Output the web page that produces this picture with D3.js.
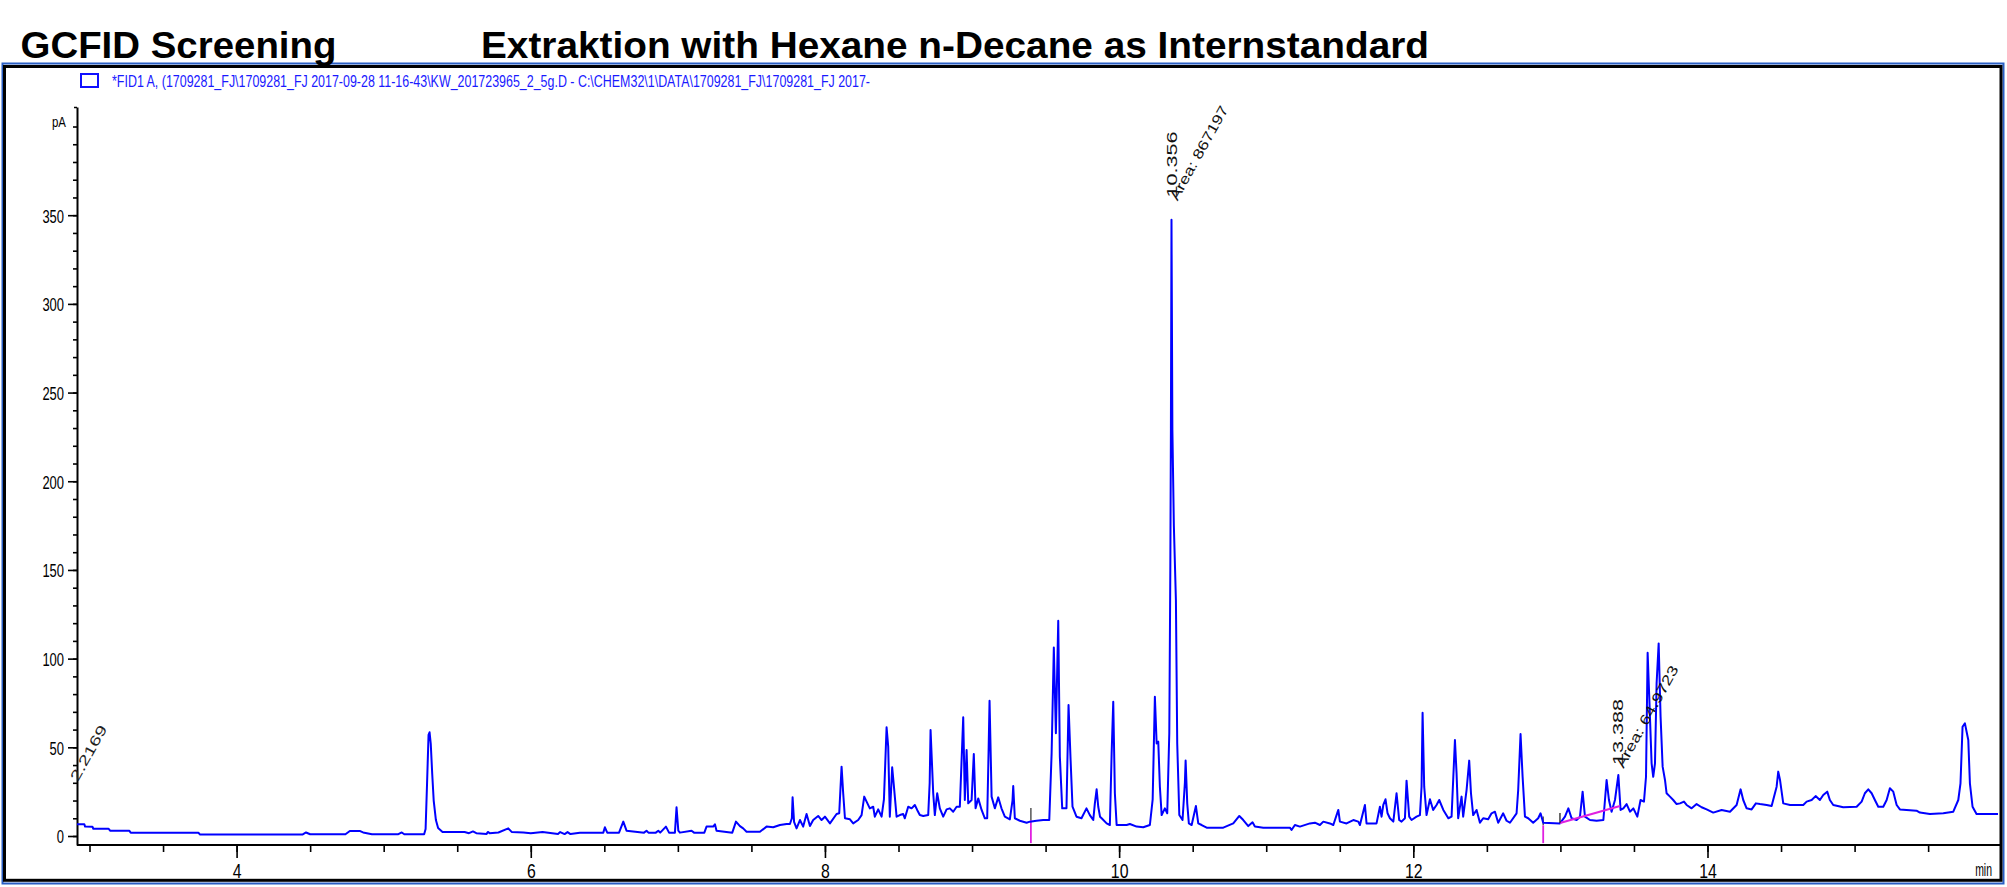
<!DOCTYPE html>
<html><head><meta charset="utf-8">
<script src="https://cdn.jsdelivr.net/npm/d3@7"></script>
<style>body{margin:0;background:#fff}svg{display:block}</style>
</head><body>
<svg id="c" width="2007" height="887"></svg>
<script>
// ---- data (retention time in min, signal in pA) ----
const timeMin = [
2.915,2.965,2.970,3.020,3.026,3.130,3.140,3.270,3.280,3.740,3.750,4.450,4.472,4.500,4.740,4.770,4.840,4.860,4.920,5.100,
5.123,5.140,5.275,5.285,5.295,5.305,5.312,5.320,5.330,5.340,5.355,5.370,5.400,5.550,5.580,5.607,5.630,5.700,5.708,5.720,
5.780,5.847,5.870,5.950,6.000,6.080,6.185,6.200,6.230,6.250,6.270,
6.334,6.493,6.504,6.520,6.600,6.629,6.651,6.770,6.787,6.800,6.850,6.867,6.880,6.919,6.940,6.980,6.991,7.003,7.014,7.093,
7.110,7.180,7.195,7.240,7.252,7.263,7.370,7.395,7.422,7.444,7.467,7.558,7.603,7.648,7.694,7.739,7.762,7.775,7.780,7.790,
7.807,7.830,7.852,7.875,7.898,7.920,7.954,7.977,8.000,8.034,8.079,8.097,8.113,8.124,8.136,8.170,8.192,8.226,8.249,8.267,
8.283,8.305,8.328,8.339,8.362,8.385,8.401,8.419,8.430,8.441,8.457,8.469,8.487,8.509,8.532,8.543,8.566,8.589,8.611,8.627,
8.645,8.668,8.702,8.712,8.718,8.736,8.747,8.763,8.781,8.804,8.827,8.849,8.872,8.895,8.917,8.929,8.940,8.951,8.963,8.974,
8.997,9.012,9.024,9.042,9.065,9.087,9.103,9.113,9.119,9.133,9.155,9.178,9.200,9.223,9.257,9.275,9.280,9.291,9.325,9.371,
9.393,9.438,9.484,9.525,9.541,9.556,9.570,9.586,9.597,9.613,9.642,9.656,9.670,9.683,9.710,9.744,9.778,9.801,
9.824,9.835,9.847,9.858,9.870,9.881,9.915,9.937,9.949,9.960,9.971,9.983,10.051,10.073,10.119,10.164,10.209,10.228,10.243,10.255,
10.266,10.277,10.289,10.311,10.327,10.341,10.348,10.352,10.356,10.362,10.372,10.386,10.395,10.409,10.431,10.447,10.452,10.463,10.474,10.493,
10.522,10.538,10.561,10.595,10.708,10.776,10.817,10.844,10.878,10.907,10.923,10.980,11.161,11.172,11.195,11.229,11.297,11.331,11.365,11.388,
11.433,11.456,11.490,11.501,11.546,11.592,11.626,11.637,11.671,11.682,11.716,11.750,11.773,11.784,11.796,11.811,11.825,11.841,11.864,11.886,
11.904,11.920,11.943,11.954,11.972,11.988,12.022,12.045,12.056,12.063,12.074,12.090,12.113,12.135,12.158,12.176,12.204,12.238,12.260,12.272,
12.283,12.294,12.305,12.328,12.339,12.362,12.380,12.392,12.407,12.430,12.453,12.475,12.509,12.532,12.555,12.577,12.611,12.634,12.657,12.702,
12.713,12.729,12.743,12.759,12.781,12.815,12.849,12.865,12.883,12.997,
13.031,13.054,13.076,13.110,13.133,13.151,13.167,13.201,13.246,13.292,13.314,13.330,13.348,13.371,13.394,13.409,13.428,13.450,13.473,13.496,
13.523,13.545,13.568,13.582,13.593,13.604,13.620,13.631,13.643,13.654,13.668,13.681,13.695,13.711,13.722,13.745,13.767,13.790,13.813,13.840,
13.858,13.892,13.926,13.960,13.994,14.039,14.096,14.153,14.198,14.225,14.243,14.266,14.300,14.329,14.357,14.402,14.436,14.470,14.481,14.493,
14.515,14.561,14.651,14.674,14.708,14.735,14.764,14.787,14.814,14.832,14.855,14.923,15.014,15.048,15.070,15.093,15.116,15.138,15.161,15.195,
15.218,15.240,15.263,15.286,15.308,
15.421,15.444,15.512,15.603,15.671,15.705,15.720,15.734,15.750,15.773,15.784,15.802,15.829,15.897,15.975
];
const signalPA = [
6.6,6.6,5.3,5.2,4.1,4.1,3.0,3.0,1.9,1.9,0.9,0.9,2.0,1.0,1.0,2.8,2.8,2.0,1.0,1.0,
2.0,1.0,1.0,4.0,30.0,57.0,58.5,52.0,35.0,20.0,9.0,4.5,2.3,2.3,1.6,2.6,1.6,1.2,2.3,1.6,
2.0,4.3,2.3,2.0,1.6,2.2,1.1,2.2,1.1,2.2,1.1,
1.9,1.9,4.9,1.9,1.9,8.1,3.0,1.9,3.0,1.9,1.9,3.0,1.9,5.3,1.9,1.9,16.2,3.0,1.9,3.0,
1.9,1.9,5.3,5.3,6.6,3.0,1.9,8.1,5.6,4.3,2.4,2.4,5.3,4.9,6.2,6.8,6.8,10.0,21.8,8.0,
4.3,9.0,5.3,12.4,5.6,9.0,11.3,9.0,10.9,7.1,12.4,12.8,39.1,24.1,10.0,9.4,7.1,9.0,11.8,22.2,
19.4,15.6,16.5,10.9,15.0,10.9,20.7,61.3,50.4,10.9,38.7,27.8,10.9,11.8,12.4,10.0,16.5,15.6,17.5,14.7,
11.8,11.3,11.8,30.0,59.8,24.1,11.8,24.1,15.6,10.9,15.0,15.6,13.7,16.5,16.5,42.8,66.9,20.3,48.5,18.4,
20.3,46.2,15.6,21.2,14.7,10.0,10.0,50.0,76.3,22.2,15.6,21.8,15.6,10.9,9.4,20.0,28.2,10.0,8.6,7.5,
8.1,8.6,9.0,9.0,46.6,106.3,57.9,121.4,44.7,15.6,15.6,73.8,42.8,16.5,10.9,10.0,15.6,11.8,
9.0,18.4,26.3,16.5,10.9,10.0,7.1,6.2,46.6,75.7,24.1,6.2,6.2,6.8,5.3,4.9,6.2,20.7,78.5,52.2,
53.2,27.8,11.8,15.6,12.8,57.9,150.0,230.0,347.5,229.0,175.0,133.0,52.0,11.8,9.0,30.0,42.5,18.4,7.1,6.2,
16.9,7.1,6.2,4.7,4.7,7.1,11.3,9.0,5.6,7.7,5.3,4.7,4.7,3.4,6.2,5.3,7.1,7.5,6.2,8.1,
7.1,6.2,14.7,8.1,7.1,9.0,8.1,6.2,17.5,7.1,7.1,7.1,16.5,10.9,17.5,20.7,12.8,10.0,8.1,24.1,
9.0,8.1,10.0,31.2,10.9,9.0,10.9,11.8,27.8,69.5,27.8,11.8,20.7,14.7,17.5,20.3,14.7,10.0,10.9,33.4,
54.1,35.3,10.0,22.2,10.9,25.9,42.5,24.1,11.8,14.7,7.5,10.0,9.4,12.8,13.7,7.5,12.8,8.6,7.5,12.8,
25.9,57.5,33.4,10.9,10.0,7.5,10.0,12.8,7.5,7.1,
10.9,15.6,10.0,9.0,10.9,25.0,10.9,9.0,8.6,9.0,31.6,20.3,13.7,20.3,34.4,14.7,15.6,18.0,13.7,15.6,
10.9,20.3,19.4,33.4,103.3,78.5,41.0,33.4,41.0,86.1,108.6,67.3,39.1,31.6,24.1,22.2,20.3,18.0,18.4,19.4,
17.5,15.6,18.0,16.2,15.0,13.2,14.7,13.7,17.5,26.3,20.3,15.6,15.0,18.4,18.0,17.5,16.9,27.8,36.3,31.6,
18.4,17.5,17.5,19.4,20.3,22.5,20.3,23.1,25.0,20.3,17.5,16.2,16.5,19.4,24.1,26.3,24.1,20.3,16.5,16.5,
20.3,26.9,25.0,17.5,15.0,
14.3,13.2,12.4,12.8,13.7,20.3,29.7,61.6,63.5,54.1,29.7,16.5,12.4,12.4,12.4
];
const yMajorTicks = [0, 50, 100, 150, 200, 250, 300, 350];
const yMinorTicks = d3.range(0, 401, 10);
const xMajorTicks = [4, 6, 8, 10, 12, 14];
const xMinorTicks = d3.range(3, 15.51, 0.5);
const xDomain = [2.915, 15.975];
const yDomain = [-5.07, 411];

// peak annotations: retention time, label anchor (pA), area text
const peakRT = [10.356, 13.388];
const peakRTText = ["10.356", "13.388"];
const peakLabelPA = [360, 40];
const peakAreaText = ["Area: 867197", "Area: 64.9723"];
const startLabelText = "2.2169";
const startLabelPA = 30.5;

// integration events: time, tick top/bottom (pA), drop line bottom (pA)
const eventTime = [9.40, 12.883];
const eventTickTop = [15.8, 11];
const eventTickBottom = [9.0, 6];
const dropBottom = [-4, -4];
const baselineT = [12.997, 13.405];
const baselinePA = [7.3, 16.9];

const titleLeft = "GCFID Screening";
const titleRight = "Extraktion with Hexane n-Decane as Internstandard";
const legendText = "*FID1 A, (1709281_FJ\\1709281_FJ 2017-09-28 11-16-43\\KW_201723965_2_5g.D - C:\\CHEM32\\1\\DATA\\1709281_FJ\\1709281_FJ 2017-";

// ---- drawing ----
const svg = d3.select("#c");
const FONT = "'Liberation Sans', Arial, Helvetica, sans-serif";

const x = d3.scaleLinear().domain(xDomain).range([77, 1998]);
const y = d3.scaleLinear().domain(yDomain).range([845, 107]);

// frame
svg.append("rect").attr("x", 2.5).attr("y", 63.5).attr("width", 2001).attr("height", 820)
  .attr("fill", "none").attr("stroke", "#2a5fc4").attr("stroke-width", 2);
svg.append("rect").attr("x", 4.5).attr("y", 66.5).attr("width", 1996.5).attr("height", 813.8)
  .attr("fill", "none").attr("stroke", "#000").attr("stroke-width", 3);

// titles
svg.append("text").attr("x", 20.5).attr("y", 57.5).attr("font-family", FONT).attr("font-weight", "bold")
  .attr("font-size", 37).attr("textLength", 316).attr("lengthAdjust", "spacingAndGlyphs").text(titleLeft);
svg.append("text").attr("x", 481).attr("y", 57.5).attr("font-family", FONT).attr("font-weight", "bold")
  .attr("font-size", 37).attr("textLength", 948).attr("lengthAdjust", "spacingAndGlyphs").text(titleRight);

// legend
svg.append("rect").attr("x", 81).attr("y", 74).attr("width", 17).attr("height", 13)
  .attr("fill", "none").attr("stroke", "#1010ff").attr("stroke-width", 2);
svg.append("text").attr("x", 112).attr("y", 86.5).attr("font-family", FONT).attr("font-size", 17)
  .attr("fill", "#1a1aff").attr("textLength", 758).attr("lengthAdjust", "spacingAndGlyphs").text(legendText);

// y axis
const gyMinor = svg.append("g").attr("transform", "translate(77,0)")
  .call(d3.axisLeft(y).tickValues(yMinorTicks).tickSize(4).tickSizeOuter(0).tickFormat(""));
const gy = svg.append("g").attr("transform", "translate(77,0)")
  .call(d3.axisLeft(y).tickValues(yMajorTicks).tickSize(9).tickSizeOuter(0).tickPadding(4).tickFormat(d3.format("d")));
[gyMinor, gy].forEach(g => {
  g.select(".domain").attr("stroke", "#000").attr("stroke-width", 2);
  g.selectAll(".tick line").attr("stroke", "#000").attr("stroke-width", 1.6);
});
gyMinor.select(".domain").remove();
gy.selectAll(".tick text").attr("font-family", FONT).attr("font-size", 19).attr("fill", "#000")
  .attr("dy", "0.36em")
  .each(function () { const t = d3.select(this); t.attr("textLength", 7.2 * t.text().length).attr("lengthAdjust", "spacingAndGlyphs"); });
// top stub and unit
svg.append("line").attr("x1", 74).attr("x2", 77).attr("y1", y.range()[1] + 0.5).attr("y2", y.range()[1] + 0.5)
  .attr("stroke", "#000").attr("stroke-width", 1.5);
svg.append("text").attr("x", 66).attr("y", y(400)).attr("text-anchor", "end").attr("font-family", FONT)
  .attr("font-size", 15).attr("textLength", 14).attr("lengthAdjust", "spacingAndGlyphs").text("pA");

// x axis
const gxMinor = svg.append("g").attr("transform", "translate(0,845)")
  .call(d3.axisBottom(x).tickValues(xMinorTicks).tickSize(7).tickSizeOuter(0).tickFormat(""));
const gx = svg.append("g").attr("transform", "translate(0,845)")
  .call(d3.axisBottom(x).tickValues(xMajorTicks).tickSize(13).tickSizeOuter(0).tickPadding(5).tickFormat(d3.format("d")));
[gxMinor, gx].forEach(g => {
  g.select(".domain").attr("stroke", "#000").attr("stroke-width", 2);
  g.selectAll(".tick line").attr("stroke", "#000").attr("stroke-width", 1.6);
});
gxMinor.select(".domain").remove();
gx.select(".domain").attr("d", "M77,0H2000");
gx.selectAll(".tick text").attr("font-family", FONT).attr("font-size", 21).attr("fill", "#000")
  .each(function () { const t = d3.select(this); t.attr("textLength", 8.8 * t.text().length).attr("lengthAdjust", "spacingAndGlyphs"); });
svg.append("text").attr("transform", "translate(1992,876) scale(0.55,1)").attr("text-anchor", "end")
  .attr("font-family", FONT).attr("font-size", 19).text("min");

// integration event marks
eventTime.forEach((t, i) => {
  svg.append("line").attr("x1", x(t)).attr("x2", x(t)).attr("y1", y(eventTickTop[i])).attr("y2", y(eventTickBottom[i]))
    .attr("stroke", "#555").attr("stroke-width", 1.5);
  svg.append("line").attr("x1", x(t)).attr("x2", x(t)).attr("y1", y(eventTickBottom[i])).attr("y2", y(dropBottom[i]))
    .attr("stroke", "#e020e0").attr("stroke-width", 1.8);
});

// trace
const pts = timeMin.map((t, i) => [t, signalPA[i]]);
svg.append("path").datum(pts)
  .attr("d", d3.line().x(d => x(d[0])).y(d => y(d[1])))
  .attr("fill", "none").attr("stroke", "#0000ff").attr("stroke-width", 2).attr("stroke-linejoin", "round");

// baseline drawn for the 13.388 peak
svg.append("line").attr("x1", x(baselineT[0])).attr("x2", x(baselineT[1]))
  .attr("y1", y(baselinePA[0])).attr("y2", y(baselinePA[1]))
  .attr("stroke", "#e020e0").attr("stroke-width", 2.2);
svg.append("line").attr("x1", x(baselineT[0])).attr("x2", x(baselineT[0]))
  .attr("y1", y(13)).attr("y2", y(baselinePA[0])).attr("stroke", "#222").attr("stroke-width", 1.3);

// peak labels
peakRT.forEach((t, i) => {
  const px = x(t), py = y(peakLabelPA[i]);
  svg.append("text").attr("transform", `translate(${px + 5.5},${py}) rotate(-90)`)
    .attr("font-family", FONT).attr("font-size", 14).attr("fill", "#111")
    .attr("textLength", 66).attr("lengthAdjust", "spacingAndGlyphs").text(peakRTText[i]);
  svg.append("text").attr("transform", `translate(${px + 6},${py + 4}) rotate(-61)`)
    .attr("font-family", FONT).attr("font-size", 14).attr("fill", "#111")
    .attr("textLength", peakAreaText[i].length * 8.8).attr("lengthAdjust", "spacingAndGlyphs").text(peakAreaText[i]);
});
svg.append("text").attr("transform", `translate(${x(xDomain[0]) + 1},${y(startLabelPA)}) rotate(-61)`)
  .attr("font-family", FONT).attr("font-size", 14).attr("fill", "#222")
  .attr("textLength", 61).attr("lengthAdjust", "spacingAndGlyphs").text(startLabelText);
</script>
</body></html>
